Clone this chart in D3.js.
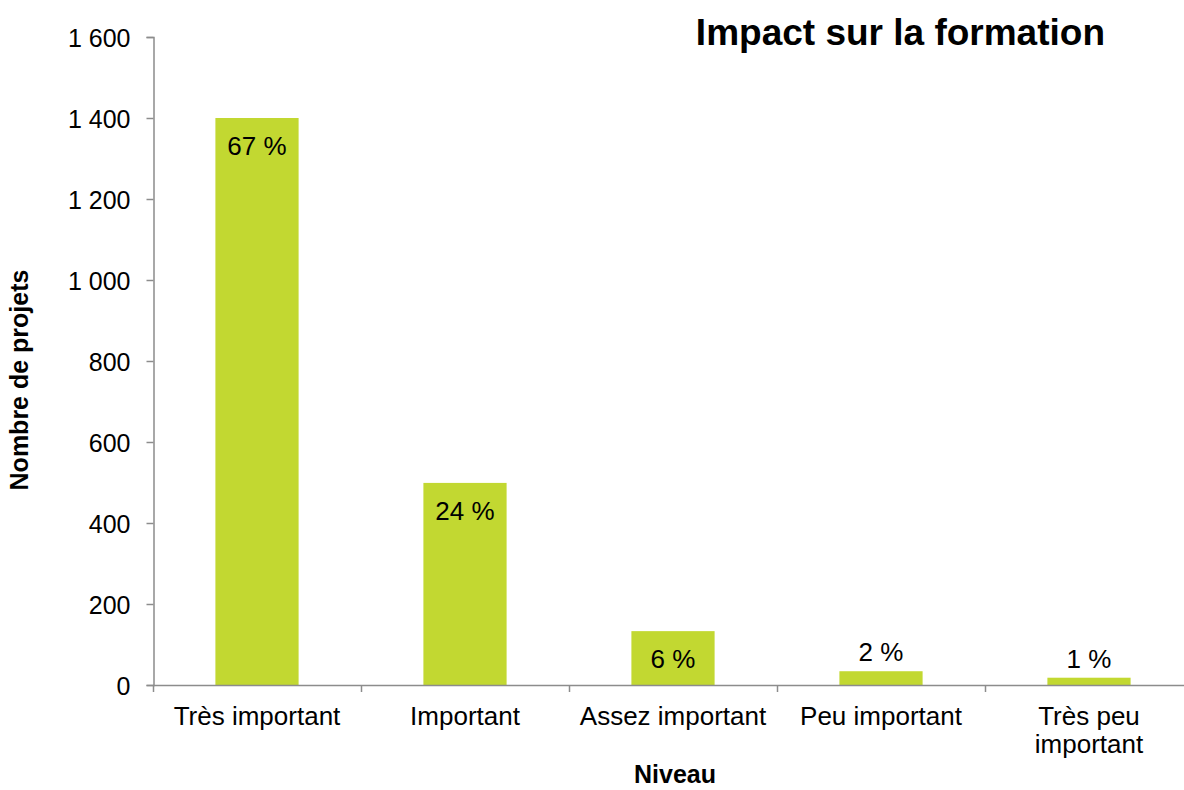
<!DOCTYPE html>
<html>
<head>
<meta charset="utf-8">
<script src="https://cdn.jsdelivr.net/npm/d3@7"></script>
<style>
  body { margin: 0; background: #fff; }
  text { font-family: "Liberation Sans", Arial, sans-serif; fill: #000; }
</style>
</head>
<body>
<svg id="chart" width="1184" height="790"></svg>
<script>
// data
const categories = ["Très important", "Important", "Assez important", "Peu important", "Très peu important"];
const counts = [1400, 499, 133, 34, 18];
const percentLabels = ["67 %", "24 %", "6 %", "2 %", "1 %"];
const yTicks = [0, 200, 400, 600, 800, 1000, 1200, 1400, 1600];

const svg = d3.select("#chart");
const barColor = "#c2d831";
const axisColor = "#8c8c8c";

const x = d3.scaleBand()
  .domain(categories)
  .range([153, 1193])
  .paddingInner(0.6)
  .paddingOuter(0.3);

const y = d3.scaleLinear().domain([0, 1600]).range([685, 37]);

const fmt = v => d3.format(",")(v).replace(",", " ");

// y axis
const yAxis = svg.append("g")
  .attr("transform", "translate(153.5,0)")
  .call(d3.axisLeft(y).tickValues(yTicks).tickSize(7).tickPadding(16).tickFormat(fmt));
yAxis.select(".domain").attr("stroke", axisColor).attr("stroke-width", 1.5);
yAxis.selectAll(".tick line").attr("stroke", axisColor).attr("stroke-width", 1.5);
yAxis.selectAll(".tick text").attr("font-size", 25).attr("dy", "0.36em");

// bars
svg.selectAll("rect.bar")
  .data(counts)
  .join("rect")
  .attr("class", "bar")
  .attr("x", (d, i) => x(categories[i]))
  .attr("width", x.bandwidth())
  .attr("y", d => y(d))
  .attr("height", d => y(0) - y(d))
  .attr("fill", barColor);

// x axis
const step = x.step();
svg.append("line")
  .attr("x1", 153).attr("x2", 1193)
  .attr("y1", 685.5).attr("y2", 685.5)
  .attr("stroke", axisColor).attr("stroke-width", 1.5);
svg.selectAll("line.xtick")
  .data(d3.range(categories.length + 1))
  .join("line")
  .attr("class", "xtick")
  .attr("x1", i => 153.5 + i * step).attr("x2", i => 153.5 + i * step)
  .attr("y1", 685).attr("y2", 692)
  .attr("stroke", axisColor).attr("stroke-width", 1.5);

// category labels (wrapped for the last one)
const labelLines = c => c === "Très peu important" ? ["Très peu", "important"] : [c];
svg.selectAll("text.cat")
  .data(categories)
  .join("text")
  .attr("class", "cat")
  .attr("text-anchor", "middle")
  .attr("font-size", 26)
  .each(function (c) {
    const t = d3.select(this);
    labelLines(c).forEach((line, k) => {
      t.append("tspan")
        .attr("x", x(c) + x.bandwidth() / 2)
        .attr("y", 725 + k * 28)
        .text(line);
    });
  });

// percentage labels
svg.selectAll("text.pct")
  .data(counts)
  .join("text")
  .attr("class", "pct")
  .attr("text-anchor", "middle")
  .attr("font-size", 26)
  .attr("x", (d, i) => x(categories[i]) + x.bandwidth() / 2)
  .attr("y", d => (y(0) - y(d)) > 45 ? y(d) + 37 : y(d) - 10)
  .text((d, i) => percentLabels[i]);

// titles
svg.append("text")
  .attr("x", 1105).attr("y", 45)
  .attr("text-anchor", "end")
  .attr("font-size", 37)
  .attr("font-weight", "bold")
  .text("Impact sur la formation");

svg.append("text")
  .attr("transform", "translate(28,380) rotate(-90)")
  .attr("text-anchor", "middle")
  .attr("font-size", 25)
  .attr("font-weight", "bold")
  .text("Nombre de projets");

svg.append("text")
  .attr("x", 675).attr("y", 783)
  .attr("text-anchor", "middle")
  .attr("font-size", 25)
  .attr("font-weight", "bold")
  .text("Niveau");
</script>
</body>
</html>
